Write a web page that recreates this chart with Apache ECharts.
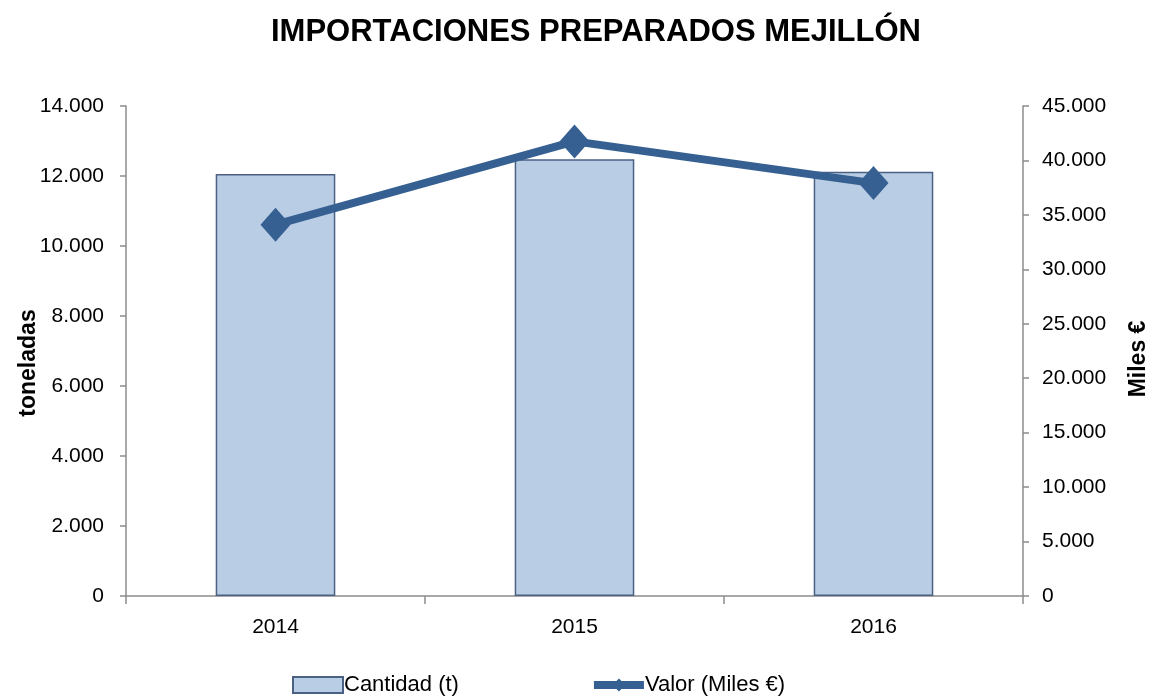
<!DOCTYPE html>
<html><head><meta charset="utf-8">
<script src="https://cdn.jsdelivr.net/npm/echarts@6/dist/echarts.min.js"></script>
<style>html,body{margin:0;padding:0;background:#fff}#c{width:1151px;height:697px}</style>
</head><body><div id="c"></div>
<script>
const categories = ['2014', '2015', '2016'];
const cantidad = [12060, 12480, 12120];
const valor = [34100, 41750, 37920];
const leftTicks = {min: 0, max: 14000, interval: 2000};
const rightTicks = {min: 0, max: 45000, interval: 5000};

const FONT = '"Liberation Sans", Arial, sans-serif';
const fmt = v => String(v).replace(/\B(?=(\d{3})+(?!\d))/g, '.');
const chart = echarts.init(document.getElementById('c'));
chart.setOption({
  animation: false,
  title: {text: 'IMPORTACIONES PREPARADOS MEJILLÓN', left: 266, top: 12,
    textStyle: {fontFamily: FONT, fontWeight: 'bold', fontSize: 31, color: '#000'}},
  grid: {left: 126, right: 128, top: 106, bottom: 101, containLabel: false, outerBoundsMode: 'none'},
  legend: {left: 287, top: 669, itemGap: 131, itemWidth: 50, itemHeight: 16,
    textStyle: {fontFamily: FONT, fontSize: 22, color: '#000', padding: [0,0,0,-4]},
    data: [{name: 'Cantidad (t)', icon: 'rect'},
           {name: 'Valor (Miles €)', lineStyle: {width: 8, color: '#366092'}}]},
  xAxis: {type: 'category', data: categories,
    axisLine: {lineStyle: {color: '#8c8c8c', width: 1.5}},
    axisTick: {show: true, length: 8, lineStyle: {color: '#8c8c8c', width: 1.5}},
    axisLabel: {fontFamily: FONT, fontSize: 21, color: '#000', margin: 21}},
  yAxis: [
    {type: 'value', min: leftTicks.min, max: leftTicks.max, interval: leftTicks.interval,
      name: 'toneladas', nameLocation: 'middle', nameGap: 86, nameRotate: 90, nameMoveOverlap: false,
      nameTextStyle: {fontFamily: FONT, fontSize: 23, fontWeight: 'bold', color: '#000', padding: [0, 24, 0, 0]},
      axisLine: {show: true, lineStyle: {color: '#8c8c8c', width: 1.5}},
      axisTick: {show: true, length: 6, lineStyle: {color: '#8c8c8c', width: 1.5}},
      splitLine: {show: false},
      axisLabel: {fontFamily: FONT, fontSize: 21, color: '#000', margin: 22, formatter: fmt}},
    {type: 'value', min: rightTicks.min, max: rightTicks.max, interval: rightTicks.interval,
      name: 'Miles €', nameLocation: 'middle', nameGap: 104, nameRotate: 90, nameMoveOverlap: false,
      nameTextStyle: {fontFamily: FONT, fontSize: 23, fontWeight: 'bold', color: '#000', padding: [0, 16, 0, 0]},
      axisLine: {show: true, lineStyle: {color: '#8c8c8c', width: 1.5}},
      axisTick: {show: true, length: 6, lineStyle: {color: '#8c8c8c', width: 1.5}},
      splitLine: {show: false},
      axisLabel: {fontFamily: FONT, fontSize: 21, color: '#000', margin: 19, formatter: fmt}}
  ],
  series: [
    {name: 'Cantidad (t)', type: 'bar', data: cantidad, yAxisIndex: 0, barWidth: '40%',
      itemStyle: {color: '#B9CDE5', borderColor: '#4A6184', borderWidth: 1.5}},
    {name: 'Valor (Miles €)', type: 'line', data: valor, yAxisIndex: 1,
      symbol: 'diamond', symbolSize: [30, 34],
      lineStyle: {color: '#366092', width: 8}, itemStyle: {color: '#366092'}}
  ]
});
</script></body></html>
